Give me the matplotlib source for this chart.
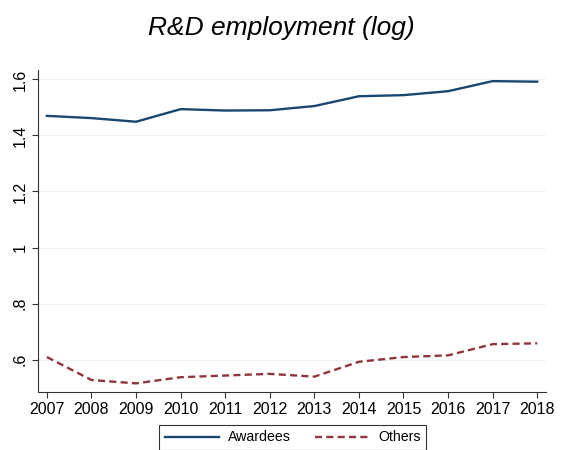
import numpy as np
import matplotlib.pyplot as plt

plt.rcParams['font.family'] = ['Liberation Sans', 'DejaVu Sans']

years = [2007, 2008, 2009, 2010, 2011, 2012, 2013, 2014, 2015, 2016, 2017, 2018]
awardees = [1.470, 1.462, 1.449, 1.494, 1.489, 1.490, 1.505, 1.540, 1.544, 1.558, 1.594, 1.592]
others = [0.609, 0.527, 0.515, 0.537, 0.543, 0.549, 0.539, 0.592, 0.609, 0.615, 0.655, 0.658]
yticks = [0.6, 0.8, 1.0, 1.2, 1.4, 1.6]
ytick_labels = ['.6', '.8', '1', '1.2', '1.4', '1.6']

fig = plt.figure(figsize=(5.63, 4.5), dpi=100)
ax = fig.add_axes([0.0675, 0.13, 0.9025, 0.714])

ax.plot(years, awardees, color='#1a476f', lw=1.7, label='Awardees')
ax.plot(years, others, color='#90353b', lw=1.7, ls=(0, (3.0, 1.8)), label='Others')

ax.set_xlim(2006.8, 2018.2)
ax.set_ylim(0.486, 1.633)
ax.set_xticks(years)
ax.set_yticks(yticks)
ax.set_yticklabels(ytick_labels, rotation=90, va='center')
ax.tick_params(axis='both', labelsize=11.5, length=4, width=0.8, color='#333333')
ax.grid(axis='y', color='#eaf2f3', lw=0.9)
ax.set_axisbelow(True)
for s in ['top', 'right']:
    ax.spines[s].set_visible(False)
for s in ['left', 'bottom']:
    ax.spines[s].set_color('#333333')
    ax.spines[s].set_linewidth(0.8)

fig.text(0.499, 0.938, 'R&D employment (log)', ha='center', va='center', fontsize=19, style='italic')

leg = fig.legend(loc='upper center', bbox_to_anchor=(0.52, 0.056), ncol=2, fontsize=10.2,
                 handlelength=3.8, frameon=True, fancybox=False, edgecolor='black',
                 columnspacing=1.7, borderpad=0.4, borderaxespad=0, handletextpad=0.65)
leg.get_frame().set_linewidth(0.8)

plt.savefig('out.png')
